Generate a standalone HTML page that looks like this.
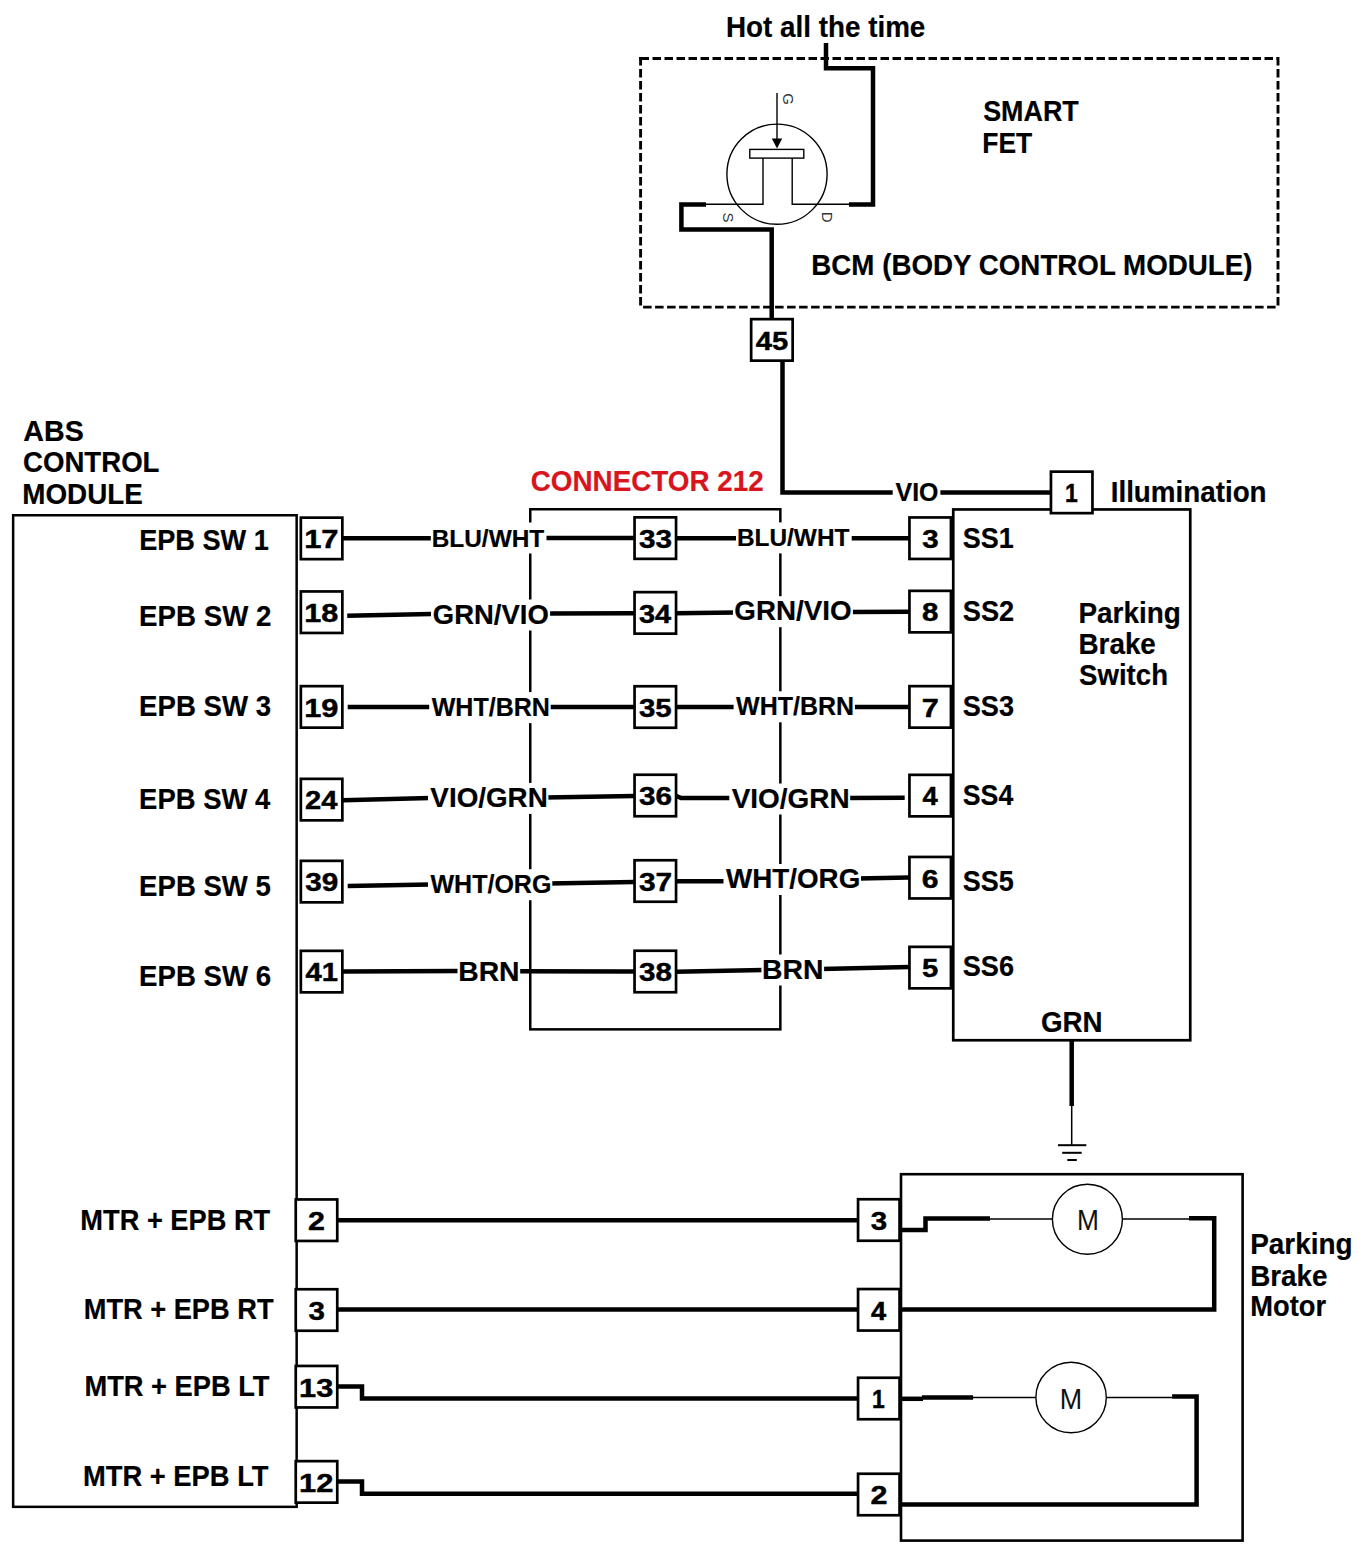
<!DOCTYPE html>
<html><head><meta charset="utf-8"><style>
html,body{margin:0;padding:0;background:#fff;}
svg{display:block;}
text{font-family:"Liberation Sans",sans-serif;}
</style></head><body>
<svg width="1372" height="1554" viewBox="0 0 1372 1554">
<rect width="1372" height="1554" fill="#fff"/>
<path d="M640.5,58.5 H1279" fill="none" stroke="#000" stroke-width="2.9" stroke-dasharray="8.5 3.5"/>
<path d="M640.6,57.1 V308.6" fill="none" stroke="#000" stroke-width="2.9" stroke-dasharray="8.5 3.5"/>
<path d="M1278,57.1 V308.6" fill="none" stroke="#000" stroke-width="2.9" stroke-dasharray="8.5 3.5"/>
<path d="M643.1,307.1 H1279" fill="none" stroke="#000" stroke-width="2.9" stroke-dasharray="8.5 3.5"/>
<rect x="639.15" y="57.05" width="4" height="2.9" fill="#000"/>
<text x="725.99" y="37.2" font-size="28.6" font-weight="bold" fill="#000" stroke="#000" stroke-width="0.2" textLength="199.35" lengthAdjust="spacingAndGlyphs">Hot all the time</text>
<path d="M826,43 L826,68.3 L873,68.3 L873,204.4 L849,204.4" fill="none" stroke="#000" stroke-width="4.5" stroke-linejoin="miter" stroke-linecap="butt"/>
<circle cx="777" cy="174.2" r="50.1" fill="none" stroke="#000" stroke-width="1.4"/>
<text x="0" y="0" font-size="15" fill="#333" text-anchor="middle" transform="translate(788.6,99.2) rotate(90) translate(0,5.2)">G</text>
<text x="0" y="0" font-size="15" fill="#333" text-anchor="middle" transform="translate(728.5,217.6) rotate(90) translate(0,5.2)">S</text>
<text x="0" y="0" font-size="15" fill="#333" text-anchor="middle" transform="translate(827.3,217.1) rotate(90) translate(0,5.2)">D</text>
<path d="M777,93 L777,140" fill="none" stroke="#000" stroke-width="1.4" stroke-linejoin="miter" stroke-linecap="butt"/>
<path d="M771.8,138.6 L782.2,138.6 L777,148.4 Z" fill="#000"/>
<rect x="749.8" y="149.4" width="54" height="8.7" fill="#fff" stroke="#000" stroke-width="1.4"/>
<path d="M706,204.3 L763,204.3 L763,158.1" fill="none" stroke="#000" stroke-width="1.4" stroke-linejoin="miter" stroke-linecap="butt"/>
<path d="M792.2,158.1 L792.2,204.3 L849,204.3" fill="none" stroke="#000" stroke-width="1.4" stroke-linejoin="miter" stroke-linecap="butt"/>
<path d="M706,204.4 L681.4,204.4 L681.4,229.4 L771.7,229.4 L771.7,319" fill="none" stroke="#000" stroke-width="4.5" stroke-linejoin="miter" stroke-linecap="butt"/>
<text x="983.19" y="120.5" font-size="28.6" font-weight="bold" fill="#000" stroke="#000" stroke-width="0.2" textLength="95.58" lengthAdjust="spacingAndGlyphs">SMART</text>
<text x="982.28" y="152.8" font-size="28.6" font-weight="bold" fill="#000" stroke="#000" stroke-width="0.2" textLength="49.95" lengthAdjust="spacingAndGlyphs">FET</text>
<text x="811.3" y="274.9" font-size="28.6" font-weight="bold" fill="#000" stroke="#000" stroke-width="0.2" textLength="441.21" lengthAdjust="spacingAndGlyphs">BCM (BODY CONTROL MODULE)</text>
<path d="M782.5,361 L782.5,492.4 L1052,492.4" fill="none" stroke="#000" stroke-width="4.5" stroke-linejoin="miter" stroke-linecap="butt"/>
<rect x="892.7" y="476.7" width="47.7" height="31" fill="#fff"/>
<text x="895.58" y="500.7" font-size="24.9" font-weight="bold" fill="#000" stroke="#000" stroke-width="0.2" textLength="42.89" lengthAdjust="spacingAndGlyphs">VIO</text>
<rect x="751.15" y="319.15" width="41.5" height="41.5" fill="#fff" stroke="#000" stroke-width="2.7"/>
<text x="755.86" y="349.7" font-size="26" font-weight="bold" fill="#000" stroke="#000" stroke-width="0.45" textLength="32.43" lengthAdjust="spacingAndGlyphs">45</text>
<text x="23.39" y="440.7" font-size="28.6" font-weight="bold" fill="#000" stroke="#000" stroke-width="0.2" textLength="60.39" lengthAdjust="spacingAndGlyphs">ABS</text>
<text x="23" y="471.6" font-size="28.6" font-weight="bold" fill="#000" stroke="#000" stroke-width="0.2" textLength="136.5" lengthAdjust="spacingAndGlyphs">CONTROL</text>
<text x="22.29" y="503.6" font-size="28.6" font-weight="bold" fill="#000" stroke="#000" stroke-width="0.2" textLength="120.47" lengthAdjust="spacingAndGlyphs">MODULE</text>
<rect x="13.15" y="515.25" width="283.5" height="991.6" fill="none" stroke="#000" stroke-width="2.5"/>
<text x="139.14" y="549.6" font-size="28.6" font-weight="bold" fill="#000" stroke="#000" stroke-width="0.2" textLength="129.71" lengthAdjust="spacingAndGlyphs">EPB SW 1</text>
<text x="139.1" y="625.7" font-size="28.6" font-weight="bold" fill="#000" stroke="#000" stroke-width="0.2" textLength="132.28" lengthAdjust="spacingAndGlyphs">EPB SW 2</text>
<text x="139.1" y="716.1" font-size="28.6" font-weight="bold" fill="#000" stroke="#000" stroke-width="0.2" textLength="132.03" lengthAdjust="spacingAndGlyphs">EPB SW 3</text>
<text x="139.12" y="808.5" font-size="28.6" font-weight="bold" fill="#000" stroke="#000" stroke-width="0.2" textLength="131.19" lengthAdjust="spacingAndGlyphs">EPB SW 4</text>
<text x="139.11" y="895.7" font-size="28.6" font-weight="bold" fill="#000" stroke="#000" stroke-width="0.2" textLength="131.75" lengthAdjust="spacingAndGlyphs">EPB SW 5</text>
<text x="139.1" y="985.5" font-size="28.6" font-weight="bold" fill="#000" stroke="#000" stroke-width="0.2" textLength="132.03" lengthAdjust="spacingAndGlyphs">EPB SW 6</text>
<text x="80.33" y="1230.3" font-size="28.6" font-weight="bold" fill="#000" stroke="#000" stroke-width="0.2" textLength="189.92" lengthAdjust="spacingAndGlyphs">MTR + EPB RT</text>
<text x="83.73" y="1319.1" font-size="28.6" font-weight="bold" fill="#000" stroke="#000" stroke-width="0.2" textLength="189.82" lengthAdjust="spacingAndGlyphs">MTR + EPB RT</text>
<text x="84.43" y="1395.6" font-size="28.6" font-weight="bold" fill="#000" stroke="#000" stroke-width="0.2" textLength="185.11" lengthAdjust="spacingAndGlyphs">MTR + EPB LT</text>
<text x="83.02" y="1485.7" font-size="28.6" font-weight="bold" fill="#000" stroke="#000" stroke-width="0.2" textLength="185.51" lengthAdjust="spacingAndGlyphs">MTR + EPB LT</text>
<rect x="530.25" y="509.25" width="250.1" height="520.1" fill="none" stroke="#000" stroke-width="2.5"/>
<text x="530.69" y="490.6" font-size="28.6" font-weight="bold" fill="#d8141c" stroke="#d8141c" stroke-width="0.2" textLength="233.1" lengthAdjust="spacingAndGlyphs">CONNECTOR 212</text>
<rect x="953.25" y="509.45" width="237" height="530.8" fill="none" stroke="#000" stroke-width="2.7"/>
<text x="1110.69" y="502" font-size="28.6" font-weight="bold" fill="#000" stroke="#000" stroke-width="0.2" textLength="155.9" lengthAdjust="spacingAndGlyphs">Illumination</text>
<text x="962.79" y="548" font-size="28.6" font-weight="bold" fill="#000" stroke="#000" stroke-width="0.2" textLength="50.99" lengthAdjust="spacingAndGlyphs">SS1</text>
<text x="962.78" y="621.2" font-size="28.6" font-weight="bold" fill="#000" stroke="#000" stroke-width="0.2" textLength="51.41" lengthAdjust="spacingAndGlyphs">SS2</text>
<text x="962.79" y="715.5" font-size="28.6" font-weight="bold" fill="#000" stroke="#000" stroke-width="0.2" textLength="51.27" lengthAdjust="spacingAndGlyphs">SS3</text>
<text x="962.8" y="804.7" font-size="28.6" font-weight="bold" fill="#000" stroke="#000" stroke-width="0.2" textLength="50.44" lengthAdjust="spacingAndGlyphs">SS4</text>
<text x="962.79" y="890.6" font-size="28.6" font-weight="bold" fill="#000" stroke="#000" stroke-width="0.2" textLength="50.99" lengthAdjust="spacingAndGlyphs">SS5</text>
<text x="962.79" y="976" font-size="28.6" font-weight="bold" fill="#000" stroke="#000" stroke-width="0.2" textLength="51.27" lengthAdjust="spacingAndGlyphs">SS6</text>
<text x="1078.49" y="622.9" font-size="28.6" font-weight="bold" fill="#000" stroke="#000" stroke-width="0.2" textLength="102.31" lengthAdjust="spacingAndGlyphs">Parking</text>
<text x="1078.49" y="653.9" font-size="28.6" font-weight="bold" fill="#000" stroke="#000" stroke-width="0.2" textLength="77.38" lengthAdjust="spacingAndGlyphs">Brake</text>
<text x="1079.07" y="684.9" font-size="28.6" font-weight="bold" fill="#000" stroke="#000" stroke-width="0.2" textLength="88.96" lengthAdjust="spacingAndGlyphs">Switch</text>
<text x="1040.89" y="1032.1" font-size="28.6" font-weight="bold" fill="#000" stroke="#000" stroke-width="0.2" textLength="61.67" lengthAdjust="spacingAndGlyphs">GRN</text>
<path d="M1071.7,1040 L1071.7,1106" fill="none" stroke="#000" stroke-width="4.5" stroke-linejoin="miter" stroke-linecap="butt"/>
<path d="M1071.7,1106 L1071.7,1145" fill="none" stroke="#000" stroke-width="1.5" stroke-linejoin="miter" stroke-linecap="butt"/>
<path d="M1058,1145.2 L1086.3,1145.2" fill="none" stroke="#000" stroke-width="2" stroke-linejoin="miter" stroke-linecap="butt"/>
<path d="M1062.2,1152.8 L1081.7,1152.8" fill="none" stroke="#000" stroke-width="2" stroke-linejoin="miter" stroke-linecap="butt"/>
<path d="M1067.3,1160 L1076.8,1160" fill="none" stroke="#000" stroke-width="2" stroke-linejoin="miter" stroke-linecap="butt"/>
<path d="M343,538.2 L431,538.2" fill="none" stroke="#000" stroke-width="4.5" stroke-linejoin="miter" stroke-linecap="butt"/>
<path d="M545,538 L634,538" fill="none" stroke="#000" stroke-width="4.5" stroke-linejoin="miter" stroke-linecap="butt"/>
<path d="M676,538.2 L739,538.2" fill="none" stroke="#000" stroke-width="4.5" stroke-linejoin="miter" stroke-linecap="butt"/>
<path d="M850,538.3 L909,538.3" fill="none" stroke="#000" stroke-width="4.5" stroke-linejoin="miter" stroke-linecap="butt"/>
<path d="M347.2,615.8 L431,614" fill="none" stroke="#000" stroke-width="4.5" stroke-linejoin="miter" stroke-linecap="butt"/>
<path d="M547,613.6 L634,613.2" fill="none" stroke="#000" stroke-width="4.5" stroke-linejoin="miter" stroke-linecap="butt"/>
<path d="M676,613.3 L736,612.5" fill="none" stroke="#000" stroke-width="4.5" stroke-linejoin="miter" stroke-linecap="butt"/>
<path d="M850,612 L909,611.8" fill="none" stroke="#000" stroke-width="4.5" stroke-linejoin="miter" stroke-linecap="butt"/>
<path d="M347.7,707.1 L431,707.1" fill="none" stroke="#000" stroke-width="4.5" stroke-linejoin="miter" stroke-linecap="butt"/>
<path d="M548,707 L634,707" fill="none" stroke="#000" stroke-width="4.5" stroke-linejoin="miter" stroke-linecap="butt"/>
<path d="M676,706.9 L736,706.9" fill="none" stroke="#000" stroke-width="4.5" stroke-linejoin="miter" stroke-linecap="butt"/>
<path d="M852,706.9 L909,706.9" fill="none" stroke="#000" stroke-width="4.5" stroke-linejoin="miter" stroke-linecap="butt"/>
<path d="M343,800.2 L430,797.9" fill="none" stroke="#000" stroke-width="4.5" stroke-linejoin="miter" stroke-linecap="butt"/>
<path d="M545,797.5 L634,796" fill="none" stroke="#000" stroke-width="4.5" stroke-linejoin="miter" stroke-linecap="butt"/>
<path d="M676,795.8 L681,798 L732,798" fill="none" stroke="#000" stroke-width="4.5" stroke-linejoin="miter" stroke-linecap="butt"/>
<path d="M847,798.1 L904.7,797.8" fill="none" stroke="#000" stroke-width="4.5" stroke-linejoin="miter" stroke-linecap="butt"/>
<path d="M347.7,886.1 L430,884.5" fill="none" stroke="#000" stroke-width="4.5" stroke-linejoin="miter" stroke-linecap="butt"/>
<path d="M549,883.5 L634,882" fill="none" stroke="#000" stroke-width="4.5" stroke-linejoin="miter" stroke-linecap="butt"/>
<path d="M676,881.3 L726,881.3" fill="none" stroke="#000" stroke-width="4.5" stroke-linejoin="miter" stroke-linecap="butt"/>
<path d="M858,878.6 L909,877.6" fill="none" stroke="#000" stroke-width="4.5" stroke-linejoin="miter" stroke-linecap="butt"/>
<path d="M343,971.4 L460,971.1" fill="none" stroke="#000" stroke-width="4.5" stroke-linejoin="miter" stroke-linecap="butt"/>
<path d="M517,971.2 L634,971.4" fill="none" stroke="#000" stroke-width="4.5" stroke-linejoin="miter" stroke-linecap="butt"/>
<path d="M676,971.8 L763,970.1" fill="none" stroke="#000" stroke-width="4.5" stroke-linejoin="miter" stroke-linecap="butt"/>
<path d="M821,969.1 L909,966.9" fill="none" stroke="#000" stroke-width="4.5" stroke-linejoin="miter" stroke-linecap="butt"/>
<rect x="430.8" y="522.5" width="115.7" height="31" fill="#fff"/>
<text x="431.71" y="546.5" font-size="24.4" font-weight="bold" fill="#000" stroke="#000" stroke-width="0.2" textLength="112.53" lengthAdjust="spacingAndGlyphs">BLU/WHT</text>
<rect x="431.4" y="599.5" width="118.7" height="31" fill="#fff"/>
<text x="432.8" y="623.5" font-size="27.2" font-weight="bold" fill="#000" stroke="#000" stroke-width="0.2" textLength="115.97" lengthAdjust="spacingAndGlyphs">GRN/VIO</text>
<rect x="429.2" y="692.1" width="121.5" height="31" fill="#fff"/>
<text x="431.7" y="716.1" font-size="25.5" font-weight="bold" fill="#000" stroke="#000" stroke-width="0.2" textLength="118.16" lengthAdjust="spacingAndGlyphs">WHT/BRN</text>
<rect x="428" y="782.9" width="120.4" height="31" fill="#fff"/>
<text x="430.36" y="806.9" font-size="27.8" font-weight="bold" fill="#000" stroke="#000" stroke-width="0.2" textLength="117.42" lengthAdjust="spacingAndGlyphs">VIO/GRN</text>
<rect x="428" y="869.2" width="124.3" height="31" fill="#fff"/>
<text x="430.5" y="893.2" font-size="25.3" font-weight="bold" fill="#000" stroke="#000" stroke-width="0.2" textLength="120.86" lengthAdjust="spacingAndGlyphs">WHT/ORG</text>
<rect x="457.5" y="956.7" width="62.7" height="31" fill="#fff"/>
<text x="458.16" y="980.7" font-size="27.8" font-weight="bold" fill="#000" stroke="#000" stroke-width="0.2" textLength="61.43" lengthAdjust="spacingAndGlyphs">BRN</text>
<rect x="736" y="522.4" width="115.7" height="31" fill="#fff"/>
<text x="736.91" y="546.4" font-size="24.2" font-weight="bold" fill="#000" stroke="#000" stroke-width="0.2" textLength="112.53" lengthAdjust="spacingAndGlyphs">BLU/WHT</text>
<rect x="732.9" y="596.2" width="120" height="31" fill="#fff"/>
<text x="734.29" y="620.2" font-size="27" font-weight="bold" fill="#000" stroke="#000" stroke-width="0.2" textLength="117.3" lengthAdjust="spacingAndGlyphs">GRN/VIO</text>
<rect x="733.6" y="691.3" width="121.3" height="31" fill="#fff"/>
<text x="736.1" y="715.3" font-size="25.3" font-weight="bold" fill="#000" stroke="#000" stroke-width="0.2" textLength="117.96" lengthAdjust="spacingAndGlyphs">WHT/BRN</text>
<rect x="729.3" y="783.5" width="120.9" height="31" fill="#fff"/>
<text x="731.66" y="807.5" font-size="27.9" font-weight="bold" fill="#000" stroke="#000" stroke-width="0.2" textLength="117.93" lengthAdjust="spacingAndGlyphs">VIO/GRN</text>
<rect x="723.5" y="864" width="137.5" height="31" fill="#fff"/>
<text x="726" y="888" font-size="27.3" font-weight="bold" fill="#000" stroke="#000" stroke-width="0.2" textLength="134.24" lengthAdjust="spacingAndGlyphs">WHT/ORG</text>
<rect x="761.4" y="954.5" width="62.7" height="31" fill="#fff"/>
<text x="762.06" y="978.5" font-size="27.5" font-weight="bold" fill="#000" stroke="#000" stroke-width="0.2" textLength="61.43" lengthAdjust="spacingAndGlyphs">BRN</text>
<rect x="300.85" y="517.65" width="41.5" height="41.5" fill="#fff" stroke="#000" stroke-width="2.7"/>
<text x="304.15" y="548.2" font-size="26" font-weight="bold" fill="#000" stroke="#000" stroke-width="0.45" textLength="34.36" lengthAdjust="spacingAndGlyphs">17</text>
<rect x="300.85" y="591.45" width="41.5" height="41.5" fill="#fff" stroke="#000" stroke-width="2.7"/>
<text x="304.16" y="622" font-size="26" font-weight="bold" fill="#000" stroke="#000" stroke-width="0.45" textLength="34.02" lengthAdjust="spacingAndGlyphs">18</text>
<rect x="300.85" y="686.15" width="41.5" height="41.5" fill="#fff" stroke="#000" stroke-width="2.7"/>
<text x="304.16" y="716.7" font-size="26" font-weight="bold" fill="#000" stroke="#000" stroke-width="0.45" textLength="34.19" lengthAdjust="spacingAndGlyphs">19</text>
<rect x="300.85" y="778.85" width="41.5" height="41.5" fill="#fff" stroke="#000" stroke-width="2.7"/>
<text x="304.98" y="809.4" font-size="26" font-weight="bold" fill="#000" stroke="#000" stroke-width="0.45" textLength="32.43" lengthAdjust="spacingAndGlyphs">24</text>
<rect x="300.85" y="860.85" width="41.5" height="41.5" fill="#fff" stroke="#000" stroke-width="2.7"/>
<text x="305.26" y="891.4" font-size="26" font-weight="bold" fill="#000" stroke="#000" stroke-width="0.45" textLength="33.05" lengthAdjust="spacingAndGlyphs">39</text>
<rect x="300.85" y="950.85" width="41.5" height="41.5" fill="#fff" stroke="#000" stroke-width="2.7"/>
<text x="305.56" y="981.4" font-size="26" font-weight="bold" fill="#000" stroke="#000" stroke-width="0.45" textLength="32.43" lengthAdjust="spacingAndGlyphs">41</text>
<rect x="634.55" y="517.35" width="41.5" height="41.5" fill="#fff" stroke="#000" stroke-width="2.7"/>
<text x="638.96" y="547.9" font-size="26" font-weight="bold" fill="#000" stroke="#000" stroke-width="0.45" textLength="33.05" lengthAdjust="spacingAndGlyphs">33</text>
<rect x="634.55" y="592.15" width="41.5" height="41.5" fill="#fff" stroke="#000" stroke-width="2.7"/>
<text x="638.98" y="622.7" font-size="26" font-weight="bold" fill="#000" stroke="#000" stroke-width="0.45" textLength="32.13" lengthAdjust="spacingAndGlyphs">34</text>
<rect x="634.55" y="686.25" width="41.5" height="41.5" fill="#fff" stroke="#000" stroke-width="2.7"/>
<text x="638.96" y="716.8" font-size="26" font-weight="bold" fill="#000" stroke="#000" stroke-width="0.45" textLength="32.74" lengthAdjust="spacingAndGlyphs">35</text>
<rect x="634.55" y="774.75" width="41.5" height="41.5" fill="#fff" stroke="#000" stroke-width="2.7"/>
<text x="638.96" y="805.3" font-size="26" font-weight="bold" fill="#000" stroke="#000" stroke-width="0.45" textLength="33.05" lengthAdjust="spacingAndGlyphs">36</text>
<rect x="634.55" y="860.25" width="41.5" height="41.5" fill="#fff" stroke="#000" stroke-width="2.7"/>
<text x="638.95" y="890.8" font-size="26" font-weight="bold" fill="#000" stroke="#000" stroke-width="0.45" textLength="33.21" lengthAdjust="spacingAndGlyphs">37</text>
<rect x="634.55" y="950.75" width="41.5" height="41.5" fill="#fff" stroke="#000" stroke-width="2.7"/>
<text x="638.96" y="981.3" font-size="26" font-weight="bold" fill="#000" stroke="#000" stroke-width="0.45" textLength="32.9" lengthAdjust="spacingAndGlyphs">38</text>
<rect x="909.45" y="517.45" width="41.5" height="41.5" fill="#fff" stroke="#000" stroke-width="2.7"/>
<text x="922.16" y="548" font-size="26" font-weight="bold" fill="#000" stroke="#000" stroke-width="0.45" textLength="16.4" lengthAdjust="spacingAndGlyphs">3</text>
<rect x="909.45" y="590.85" width="41.5" height="41.5" fill="#fff" stroke="#000" stroke-width="2.7"/>
<text x="922.02" y="621.4" font-size="26" font-weight="bold" fill="#000" stroke="#000" stroke-width="0.45" textLength="16.4" lengthAdjust="spacingAndGlyphs">8</text>
<rect x="909.45" y="686.15" width="41.5" height="41.5" fill="#fff" stroke="#000" stroke-width="2.7"/>
<text x="921.67" y="716.7" font-size="26" font-weight="bold" fill="#000" stroke="#000" stroke-width="0.45" textLength="17.09" lengthAdjust="spacingAndGlyphs">7</text>
<rect x="909.45" y="774.85" width="41.5" height="41.5" fill="#fff" stroke="#000" stroke-width="2.7"/>
<text x="922.49" y="805.4" font-size="26" font-weight="bold" fill="#000" stroke="#000" stroke-width="0.45" textLength="15.18" lengthAdjust="spacingAndGlyphs">4</text>
<rect x="909.45" y="856.95" width="41.5" height="41.5" fill="#fff" stroke="#000" stroke-width="2.7"/>
<text x="921.85" y="887.5" font-size="26" font-weight="bold" fill="#000" stroke="#000" stroke-width="0.45" textLength="16.74" lengthAdjust="spacingAndGlyphs">6</text>
<rect x="909.45" y="946.85" width="41.5" height="41.5" fill="#fff" stroke="#000" stroke-width="2.7"/>
<text x="922.02" y="977.4" font-size="26" font-weight="bold" fill="#000" stroke="#000" stroke-width="0.45" textLength="16.24" lengthAdjust="spacingAndGlyphs">5</text>
<rect x="1050.95" y="471.65" width="41.5" height="41.5" fill="#fff" stroke="#000" stroke-width="2.7"/>
<text x="1064.92" y="502.2" font-size="26" font-weight="bold" fill="#000" stroke="#000" stroke-width="0.45" textLength="12.78" lengthAdjust="spacingAndGlyphs">1</text>
<rect x="901" y="1174.2" width="341.6" height="366.4" fill="none" stroke="#000" stroke-width="2.6"/>
<path d="M337,1220.2 L859,1220.2" fill="none" stroke="#000" stroke-width="4.5" stroke-linejoin="miter" stroke-linecap="butt"/>
<path d="M337,1309.5 L858,1309.5" fill="none" stroke="#000" stroke-width="4.5" stroke-linejoin="miter" stroke-linecap="butt"/>
<path d="M337,1386.4 L362,1386.4 L362,1398.6 L858,1398.6" fill="none" stroke="#000" stroke-width="4.5" stroke-linejoin="miter" stroke-linecap="butt"/>
<path d="M337,1481.5 L362,1481.5 L362,1493.8 L857,1493.8" fill="none" stroke="#000" stroke-width="4.5" stroke-linejoin="miter" stroke-linecap="butt"/>
<path d="M900,1230 L925.5,1230 L925.5,1218.5 L990,1218.5" fill="none" stroke="#000" stroke-width="4.5" stroke-linejoin="miter" stroke-linecap="butt"/>
<path d="M990,1219 L1052.4,1219" fill="none" stroke="#000" stroke-width="1.4" stroke-linejoin="miter" stroke-linecap="butt"/>
<circle cx="1087.4" cy="1219.3" r="35" fill="none" stroke="#000" stroke-width="1.4"/>
<path d="M1122.4,1219 L1189,1219" fill="none" stroke="#000" stroke-width="1.4" stroke-linejoin="miter" stroke-linecap="butt"/>
<path d="M1189,1218.3 L1214.2,1218.3 L1214.2,1309.5 L900,1309.5" fill="none" stroke="#000" stroke-width="4.5" stroke-linejoin="miter" stroke-linecap="butt"/>
<path d="M900,1398.8 L923,1398.8" fill="none" stroke="#000" stroke-width="4.5" stroke-linejoin="miter" stroke-linecap="butt"/>
<path d="M922,1397.4 L973.1,1397.4" fill="none" stroke="#000" stroke-width="4.5" stroke-linejoin="miter" stroke-linecap="butt"/>
<path d="M973,1397.5 L1035.9,1397.5" fill="none" stroke="#000" stroke-width="1.4" stroke-linejoin="miter" stroke-linecap="butt"/>
<circle cx="1071.1" cy="1397.5" r="35.2" fill="none" stroke="#000" stroke-width="1.4"/>
<path d="M1106.3,1397.5 L1172.1,1397.5" fill="none" stroke="#000" stroke-width="1.4" stroke-linejoin="miter" stroke-linecap="butt"/>
<path d="M1172.1,1396.5 L1196.6,1396.5 L1196.6,1504.4 L900,1504.4" fill="none" stroke="#000" stroke-width="4.5" stroke-linejoin="miter" stroke-linecap="butt"/>
<text x="1076.9" y="1230.4" font-size="29.4" font-weight="normal" fill="#111" textLength="21.88" lengthAdjust="spacingAndGlyphs">M</text>
<text x="1059.85" y="1408.7" font-size="28.6" font-weight="normal" fill="#111" textLength="22.38" lengthAdjust="spacingAndGlyphs">M</text>
<text x="1250.19" y="1253.9" font-size="28.6" font-weight="bold" fill="#000" stroke="#000" stroke-width="0.2" textLength="102.41" lengthAdjust="spacingAndGlyphs">Parking</text>
<text x="1250.19" y="1285.8" font-size="28.6" font-weight="bold" fill="#000" stroke="#000" stroke-width="0.2" textLength="77.38" lengthAdjust="spacingAndGlyphs">Brake</text>
<text x="1250.23" y="1316.4" font-size="28.6" font-weight="bold" fill="#000" stroke="#000" stroke-width="0.2" textLength="75.8" lengthAdjust="spacingAndGlyphs">Motor</text>
<rect x="295.75" y="1199.45" width="41.5" height="41.5" fill="#fff" stroke="#000" stroke-width="2.7"/>
<text x="308.14" y="1230" font-size="26" font-weight="bold" fill="#000" stroke="#000" stroke-width="0.45" textLength="16.92" lengthAdjust="spacingAndGlyphs">2</text>
<rect x="295.75" y="1289.25" width="41.5" height="41.5" fill="#fff" stroke="#000" stroke-width="2.7"/>
<text x="308.46" y="1319.8" font-size="26" font-weight="bold" fill="#000" stroke="#000" stroke-width="0.45" textLength="16.4" lengthAdjust="spacingAndGlyphs">3</text>
<rect x="295.75" y="1365.95" width="41.5" height="41.5" fill="#fff" stroke="#000" stroke-width="2.7"/>
<text x="299.06" y="1396.5" font-size="26" font-weight="bold" fill="#000" stroke="#000" stroke-width="0.45" textLength="34.19" lengthAdjust="spacingAndGlyphs">13</text>
<rect x="295.75" y="1461.15" width="41.5" height="41.5" fill="#fff" stroke="#000" stroke-width="2.7"/>
<text x="299.05" y="1491.7" font-size="26" font-weight="bold" fill="#000" stroke="#000" stroke-width="0.45" textLength="34.36" lengthAdjust="spacingAndGlyphs">12</text>
<rect x="858.05" y="1199.25" width="41.5" height="41.5" fill="#fff" stroke="#000" stroke-width="2.7"/>
<text x="870.76" y="1229.8" font-size="26" font-weight="bold" fill="#000" stroke="#000" stroke-width="0.45" textLength="16.4" lengthAdjust="spacingAndGlyphs">3</text>
<rect x="858.05" y="1289.05" width="41.5" height="41.5" fill="#fff" stroke="#000" stroke-width="2.7"/>
<text x="871.09" y="1319.6" font-size="26" font-weight="bold" fill="#000" stroke="#000" stroke-width="0.45" textLength="15.18" lengthAdjust="spacingAndGlyphs">4</text>
<rect x="858.05" y="1377.75" width="41.5" height="41.5" fill="#fff" stroke="#000" stroke-width="2.7"/>
<text x="872.02" y="1408.3" font-size="26" font-weight="bold" fill="#000" stroke="#000" stroke-width="0.45" textLength="12.78" lengthAdjust="spacingAndGlyphs">1</text>
<rect x="858.05" y="1473.75" width="41.5" height="41.5" fill="#fff" stroke="#000" stroke-width="2.7"/>
<text x="870.44" y="1504.3" font-size="26" font-weight="bold" fill="#000" stroke="#000" stroke-width="0.45" textLength="16.92" lengthAdjust="spacingAndGlyphs">2</text>
</svg></body></html>
